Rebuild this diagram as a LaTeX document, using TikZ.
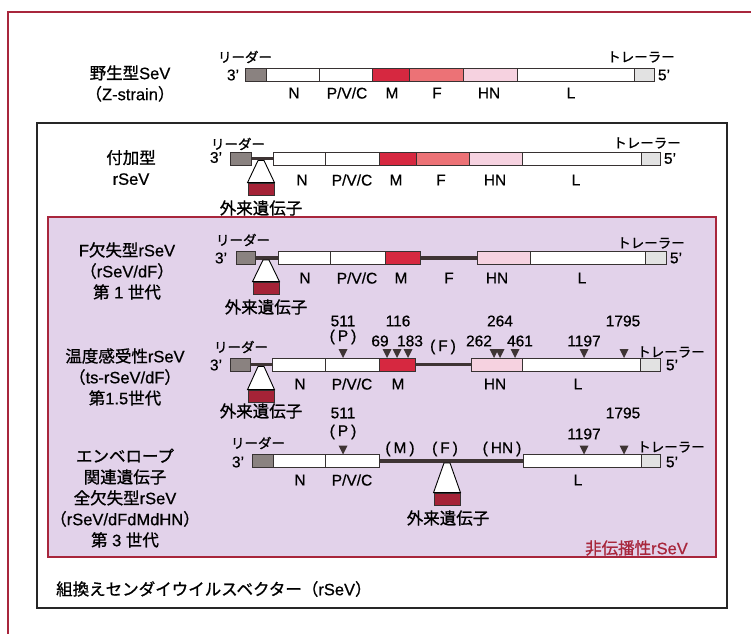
\documentclass[tikz,border=0pt]{standalone}
\usepackage{fontspec}
\setmainfont{Liberation Sans}[BoldFont={Liberation Sans}, BoldFeatures={FakeBold=0.6}]
\newfontfamily\jp{Noto Sans CJK JP}[BoldFont={Noto Sans CJK JP}, BoldFeatures={FakeBold=1.0}]
\newcommand\J[1]{{\jp\bfseries #1}}
\definecolor{leadgray}{RGB}{138,130,128}
\definecolor{Mred}{RGB}{214,40,64}
\definecolor{Fsal}{RGB}{236,114,118}
\definecolor{HNpink}{RGB}{246,210,224}
\definecolor{trail}{RGB}{226,226,226}
\definecolor{fgred}{RGB}{165,35,55}
\definecolor{lav}{RGB}{226,210,234}
\definecolor{frred}{RGB}{168,38,60}
\definecolor{backb}{RGB}{62,52,52}
\definecolor{segline}{RGB}{55,50,50}
% segment: x1 x2 yc colour
\newcommand\seg[4]{\draw[segl, fill=#4] (#1,{#3-6.5}) rectangle (#2,{#3+6.5});}
% marker triangle pointing down, apex at (x, ytop)
\newcommand\mk[2]{\fill[backb] ({#1-4.5},{#2-9}) -- ({#1+4.5},{#2-9}) -- (#1,#2) -- cycle;}
% funnel: name, xc, ytop, yboxtop
\newcommand\funnel[4]{%
  \node[fgbox] (#1) at (#2,{#4+6}) {};
  \draw[funl] ({#2-3},#3) -- (#1.north west) -- (#1.north east) -- ({#2+3},#3) -- cycle;}
\begin{document}
\begin{tikzpicture}[x=1pt,y=-1pt,
  segl/.style={draw=segline, line width=0.9pt},
  bb/.style={draw=backb, line width=3.6pt},
  fgbox/.style={draw=segline, line width=0.9pt, fill=fgred, minimum width=26pt, minimum height=12pt, inner sep=0pt},
  funl/.style={draw=black, line width=0.9pt, fill=white},
  big/.style={font=\bfseries\fontsize{16.5}{21}\selectfont, align=center, inner sep=0pt},
  lab/.style={font=\bfseries\fontsize{15.5}{17}\selectfont, inner sep=0pt},
  kana/.style={font=\jp\bfseries\fontsize{13.5}{15}\selectfont, inner sep=0pt},
  fg/.style={font=\jp\bfseries\fontsize{16.5}{19}\selectfont, inner sep=0pt},
  ]
\useasboundingbox (0,0) rectangle (751,634);
% frames
\draw[frred, line width=1.5pt] (751,12) -- (8,12) -- (8,634);
\draw[black!85, line width=1.3pt] (37,123) rectangle (727,608);
\draw[frred, line width=1.3pt, fill=lav] (48,217) rectangle (716,557);

% ---------- Row 1 ----------
\node[big] (l1) at (130,83.5) {\J{野生型}SeV\\\J{（}Z-strain\J{）}};
\seg{245}{266}{74.5}{leadgray}
\seg{266}{319}{74.5}{white}
\seg{319}{372}{74.5}{white}
\seg{372}{409}{74.5}{Mred}
\seg{409}{463}{74.5}{Fsal}
\seg{463}{517}{74.5}{HNpink}
\seg{517}{634}{74.5}{white}
\seg{634}{654}{74.5}{trail}
\node[lab] (r1t3) at (233,75) {3'};
\node[lab] (r1t5) at (664,75) {5'};
\node[kana] (r1ld) at (245,57) {リーダー};
\node[kana] (r1tr) at (641,57) {トレーラー};
\node[lab] (r1N) at (294,93) {N};
\node[lab] (r1P) at (347,93) {P/V/C};
\node[lab] (r1M) at (392,93) {M};
\node[lab] (r1F) at (437,93) {F};
\node[lab] (r1H) at (489,93) {HN};
\node[lab] (r1L) at (571,93) {L};

% ---------- Row 2 ----------
\node[big] (l2) at (131,167.5) {\J{付加型}\\rSeV};
\draw[bb] (251,158.5) -- (273,158.5);
\seg{230}{251}{158.5}{leadgray}
\seg{273}{325}{158.5}{white}
\seg{325}{379}{158.5}{white}
\seg{379}{416}{158.5}{Mred}
\seg{416}{469}{158.5}{Fsal}
\seg{469}{522}{158.5}{HNpink}
\seg{522}{641}{158.5}{white}
\seg{641}{660}{158.5}{trail}
\funnel{fg2}{261}{160.5}{183}
\node[fg] (r2fg) at (261,208) {外来遺伝子};
\node[lab] (r2t3) at (216,157.5) {3'};
\node[lab] (r2t5) at (670,158.5) {5'};
\node[kana] (r2ld) at (238,144) {リーダー};
\node[kana] (r2tr) at (647,143) {トレーラー};
\node[lab] (r2N) at (302,180) {N};
\node[lab] (r2P) at (352,180) {P/V/C};
\node[lab] (r2M) at (396,180) {M};
\node[lab] (r2F) at (441,180) {F};
\node[lab] (r2H) at (495,180) {HN};
\node[lab] (r2L) at (576,180) {L};

% ---------- Row 3 ----------
\node[big] (l3) at (127,271) {F\J{欠失型}rSeV\\\J{（}rSeV/dF\J{）}\\\J{第} 1 \J{世代}};
\draw[bb] (255,258) -- (278,258);
\draw[bb] (420,258) -- (477,258);
\seg{236}{255}{258}{leadgray}
\seg{278}{330}{258}{white}
\seg{330}{385}{258}{white}
\seg{385}{420}{258}{Mred}
\seg{477}{530}{258}{HNpink}
\seg{530}{645}{258}{white}
\seg{645}{666}{258}{trail}
\funnel{fg3}{266}{260}{282}
\node[fg] (r3fg) at (266,307) {外来遺伝子};
\node[lab] (r3t3) at (221,258) {3'};
\node[lab] (r3t5) at (676,258) {5'};
\node[kana] (r3ld) at (243,240) {リーダー};
\node[kana] (r3tr) at (651,243) {トレーラー};
\node[lab] (r3N) at (305,278) {N};
\node[lab] (r3P) at (357,278) {P/V/C};
\node[lab] (r3M) at (401,278) {M};
\node[lab] (r3F) at (449,278) {F};
\node[lab] (r3H) at (497,278) {HN};
\node[lab] (r3L) at (582,278) {L};

% ---------- Row 4 ----------
\node[big] (l4) at (125,377) {\J{温度感受性}rSeV\\\J{（}ts-rSeV/dF\J{）}\\\J{第}1.5\J{世代}};
\draw[bb] (250,364.5) -- (272,364.5);
\draw[bb] (415,364.5) -- (471,364.5);
\seg{230}{250}{364.5}{leadgray}
\seg{272}{325}{364.5}{white}
\seg{325}{379}{364.5}{white}
\seg{379}{415}{364.5}{Mred}
\seg{471}{522}{364.5}{HNpink}
\seg{522}{640}{364.5}{white}
\seg{640}{660}{364.5}{trail}
\funnel{fg4}{261}{366.5}{390}
\node[fg] (r4fg) at (261,411) {外来遺伝子};
\node[lab] (r4t3) at (216,365) {3'};
\node[lab] (r4t5) at (672,365) {5'};
\node[kana] (r4ld) at (241,347) {リーダー};
\node[kana] (r4tr) at (671,352) {トレーラー};
\node[lab] (r4N) at (300,384) {N};
\node[lab] (r4P) at (352,384) {P/V/C};
\node[lab] (r4M) at (398,384) {M};
\node[lab] (r4H) at (495,384) {HN};
\node[lab] (r4L) at (578,384) {L};
\mk{343}{358}\mk{387}{358}\mk{397}{358}\mk{408}{358}
\mk{494}{358}\mk{500}{358}\mk{515}{358}\mk{584}{358}\mk{624}{358}
\node[lab] (r4n511) at (343,321) {511};
\node[lab] (r4pP) at (343,337) {(\kern3pt P\kern3pt)};
\node[lab] (r4n116) at (398,321) {116};
\node[lab] (r4n69) at (380,341) {69};
\node[lab] (r4n183) at (410,341) {183};
\node[lab] (r4pF) at (443,347) {(\kern3pt F\kern3pt)};
\node[lab] (r4n264) at (500,321) {264};
\node[lab] (r4n262) at (479,341) {262};
\node[lab] (r4n461) at (520,341) {461};
\node[lab] (r4n1197) at (584,341) {1197};
\node[lab] (r4n1795) at (623,321) {1795};

% ---------- Row 5 ----------
\node[big] (l5) at (125,498) {\J{エンベロープ}\\\J{関連遺伝子}\\\J{全欠失型}rSeV\\\J{（}rSeV/dFdMdHN\J{）}\\\J{第} 3 \J{世代}};
\draw[bb] (379,461) -- (523,461);
\seg{252}{273}{461}{leadgray}
\seg{273}{325}{461}{white}
\seg{325}{379}{461}{white}
\seg{523}{641}{461}{white}
\seg{641}{660}{461}{trail}
\funnel{fg5}{447}{463}{493}
\node[fg] (r5fg) at (448,518) {外来遺伝子};
\node[lab] (r5t3) at (238,462) {3'};
\node[lab] (r5t5) at (672,462) {5'};
\node[kana] (r5ld) at (258,443) {リーダー};
\node[kana] (r5tr) at (671,447) {トレーラー};
\node[lab] (r5N) at (300,480) {N};
\node[lab] (r5P) at (352,480) {P/V/C};
\node[lab] (r5L) at (578,480) {L};
\node[lab] (r5pM) at (400,449) {(\kern3pt M\kern3pt)};
\node[lab] (r5pF) at (445,449) {(\kern3pt F\kern3pt)};
\node[lab] (r5pH) at (502,449) {(\kern3pt HN\kern3pt)};
\mk{343}{454.5}\mk{584}{454.5}\mk{624}{454.5}
\node[lab] (r5n511) at (343,413) {511};
\node[lab] (r5pP) at (343,432) {(\kern3pt P\kern3pt)};
\node[lab] (r5n1197) at (584,434) {1197};
\node[lab] (r5n1795) at (623,413) {1795};

% ---------- captions ----------
\node[big, text=frred, anchor=east] (nontr) at (688,548) {\J{非伝播性}rSeV};
\node[big, anchor=west] (title) at (56,589) {\J{組換えセンダイウイルスベクター（}rSeV\J{）}};
\end{tikzpicture}
\end{document}
